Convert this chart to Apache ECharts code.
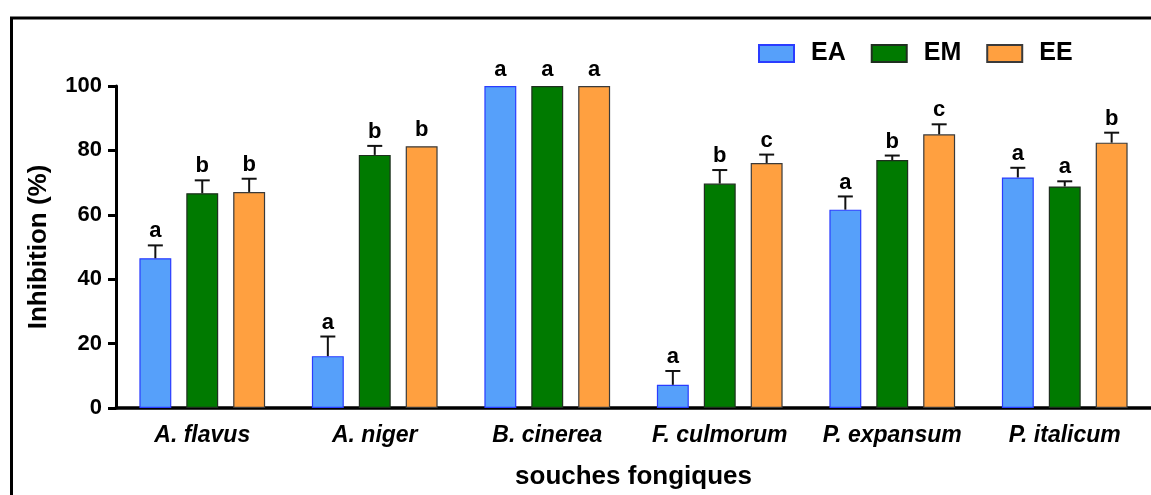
<!DOCTYPE html>
<html>
<head>
<meta charset="utf-8">
<script src="https://cdn.jsdelivr.net/npm/echarts@6/dist/echarts.min.js"></script>
<style>
html,body{margin:0;padding:0;background:#fff;}
#c{width:1151px;height:495px;}
</style>
</head>
<body>
<div id="c"></div>
<script>
var categories = ['A. flavus', 'A. niger', 'B. cinerea', 'F. culmorum', 'P. expansum', 'P. italicum'];
var seriesNames = ['EA', 'EM', 'EE'];
var valuesEA = [46.5, 16.1, 100, 7.2, 61.6, 71.6];
var valuesEM = [66.7, 78.6, 100, 69.7, 77.0, 68.8];
var valuesEE = [67.1, 81.3, 100, 76.1, 85.0, 82.4];
var errorsEA = [4.0, 6.1, 0, 4.3, 4.1, 3.0];
var errorsEM = [4.0, 2.8, 0, 4.2, 1.4, 1.6];
var errorsEE = [4.1, 0, 0, 2.6, 3.1, 3.1];
var lettersEA = ['a', 'a', 'a', 'a', 'a', 'a'];
var lettersEM = ['b', 'b', 'a', 'b', 'b', 'a'];
var lettersEE = ['b', 'b', 'a', 'c', 'c', 'b'];
var yTicks = [0, 20, 40, 60, 80, 100];

var FONT = '"Liberation Sans", Arial, sans-serif';
var colors = ['#56A0FA', '#007A00', '#FFA040'];
var borders = ['#2a3cff', '#1f2f1f', '#3a3a3a'];
var BAR_FRAC = 0.185, GAP_FRAC = 0.47;

var values = [valuesEA, valuesEM, valuesEE];
var errors = [errorsEA, errorsEM, errorsEE];
var letters = [lettersEA, lettersEM, lettersEE];

var series = [];
seriesNames.forEach(function (name, s) {
  series.push({
    name: name,
    type: 'bar',
    data: values[s],
    barWidth: (BAR_FRAC * 100) + '%',
    barGap: (GAP_FRAC * 100) + '%',
    itemStyle: { color: colors[s], borderColor: borders[s], borderWidth: 1.2 },
    emphasis: { disabled: true },
    z: 2
  });
});
seriesNames.forEach(function (name, s) {
  var data = values[s].map(function (v, i) { return [i, v, errors[s][i], letters[s][i]]; });
  series.push({
    type: 'custom',
    name: name + '_err',
    data: data,
    z: 5,
    silent: true,
    encode: { x: 0, y: 1 },
    renderItem: function (params, api) {
      var i = api.value(0), v = api.value(1), e = api.value(2);
      var letter = data[params.dataIndex][3];
      var band = api.size([1, 0])[0];
      var bw = BAR_FRAC * band;
      var step = bw * (1 + GAP_FRAC);
      var cx = api.coord([i, 0])[0] + (s - 1) * step;
      var yTop = api.coord([i, v])[1];
      var yErr = api.coord([i, v + e])[1];
      var children = [];
      var textY;
      if (e > 0) {
        children.push({ type: 'line', shape: { x1: cx, y1: yTop, x2: cx, y2: yErr }, style: { stroke: '#111', lineWidth: 2 } });
        children.push({ type: 'line', shape: { x1: cx - 7.5, y1: yErr, x2: cx + 7.5, y2: yErr }, style: { stroke: '#111', lineWidth: 2 } });
        textY = yErr - 3;
      } else {
        textY = yTop - 5;
      }
      children.push({ type: 'text', style: { text: letter, x: cx, y: textY, align: 'center', verticalAlign: 'bottom', font: 'bold 22px ' + FONT, fill: '#000' } });
      return { type: 'group', children: children };
    }
  });
});

var chart = echarts.init(document.getElementById('c'));
chart.setOption({
  animation: false,
  backgroundColor: '#fff',
  textStyle: { fontFamily: FONT },
  graphic: [{
    type: 'rect', left: 9, top: 15.5, silent: true,
    shape: { x: 0, y: 0, width: 1160, height: 500 },
    style: { fill: 'none', stroke: '#000', lineWidth: 3 }
  }],
  legend: {
    data: seriesNames,
    left: 753, top: 36,
    icon: 'rect',
    itemWidth: 35, itemHeight: 17, itemGap: 25,
    selectedMode: false,
    textStyle: { fontSize: 25, fontWeight: 'bold', color: '#000', fontFamily: FONT, padding: [0, 0, 0, 12] }
  },
  grid: { left: 116, top: 86, bottom: 85, right: -6, containLabel: false },
  xAxis: {
    type: 'category',
    data: categories,
    name: 'souches fongiques',
    nameLocation: 'middle',
    nameGap: 56,
    nameTextStyle: { fontSize: 26, fontWeight: 'bold', color: '#000', fontFamily: FONT },
    axisLine: { lineStyle: { color: '#000', width: 3.5 } },
    axisTick: { alignWithLabel: true, length: 8, lineStyle: { color: '#000', width: 3 } },
    axisLabel: { interval: 0, margin: 16, fontSize: 23, fontWeight: 'bold', fontStyle: 'italic', color: '#000', fontFamily: FONT }
  },
  yAxis: {
    type: 'value',
    min: yTicks[0], max: yTicks[yTicks.length - 1], interval: yTicks[1] - yTicks[0],
    name: 'Inhibition (%)',
    nameLocation: 'middle',
    nameGap: 64,
    nameTextStyle: { fontSize: 26, fontWeight: 'bold', color: '#000', fontFamily: FONT },
    axisLine: { show: true, lineStyle: { color: '#000', width: 3 } },
    axisTick: { show: true, length: 8, lineStyle: { color: '#000', width: 3 } },
    splitLine: { show: false },
    axisLabel: { margin: 14, fontSize: 22, fontWeight: 'bold', color: '#000', fontFamily: FONT }
  },
  series: series
});
</script>
</body>
</html>
